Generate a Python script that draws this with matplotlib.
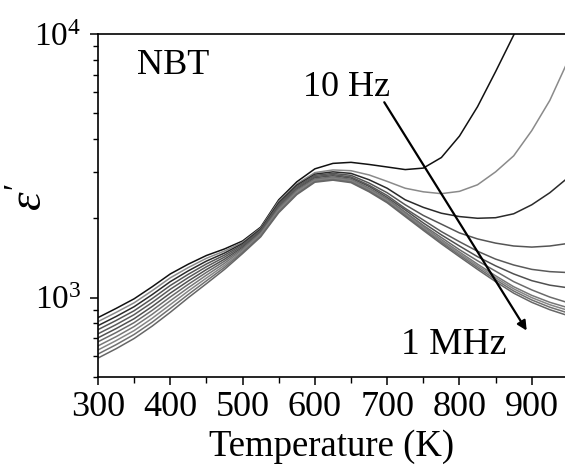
import matplotlib
matplotlib.use("Agg")
import matplotlib.pyplot as plt
from matplotlib.ticker import LogLocator, NullFormatter, FixedLocator

plt.rcParams['font.family'] = ['Liberation Serif', 'DejaVu Serif']
plt.rcParams['mathtext.fontset'] = 'custom'
plt.rcParams['mathtext.rm'] = 'Liberation Serif'
plt.rcParams['mathtext.it'] = 'Liberation Serif:italic'

temps = [300, 325, 350, 375, 400, 425, 450, 475, 500, 525, 550, 575, 600,
         625, 650, 675, 700, 725, 750, 775, 800, 825, 850, 875, 900, 925, 950]

# permittivity curves, 10 Hz (first) to 1 MHz (last)
eps_10Hz = [840, 910, 990, 1100, 1230, 1340, 1445, 1530, 1640, 1850, 2350, 2750, 3080,
            3230, 3260, 3200, 3130, 3060, 3100, 3400, 4100, 5300, 7200, 9900, 13500, 18000, 24000]
eps_32Hz = [811, 879, 956, 1063, 1189, 1301, 1410, 1503, 1622, 1835, 2320, 2700, 2980,
            3050, 3030, 2920, 2760, 2600, 2520, 2480, 2530, 2680, 3000, 3450, 4300, 5600, 7900]
eps_100Hz = [783, 848, 924, 1027, 1150, 1264, 1376, 1476, 1604, 1820, 2290, 2670, 2940,
             3000, 2960, 2800, 2600, 2350, 2200, 2090, 2030, 2000, 2010, 2080, 2250, 2500, 2850]
eps_316Hz = [756, 819, 892, 992, 1112, 1227, 1342, 1450, 1587, 1805, 2260, 2640, 2910,
             2960, 2910, 2720, 2500, 2250, 2050, 1900, 1760, 1670, 1610, 1570, 1555, 1570, 1605]
eps_1kHz = [729, 790, 862, 959, 1076, 1192, 1310, 1425, 1570, 1790, 2240, 2610, 2880,
            2930, 2870, 2670, 2440, 2180, 1970, 1780, 1630, 1500, 1400, 1330, 1280, 1255, 1245]
eps_3kHz = [704, 763, 832, 926, 1040, 1157, 1278, 1399, 1552, 1775, 2210, 2580, 2850,
            2900, 2840, 2640, 2400, 2150, 1920, 1730, 1570, 1430, 1320, 1230, 1160, 1115, 1090]
eps_10kHz = [680, 737, 804, 895, 1006, 1124, 1247, 1375, 1535, 1760, 2190, 2560, 2820,
             2870, 2810, 2600, 2370, 2110, 1880, 1690, 1520, 1380, 1260, 1150, 1070, 1005, 957]
eps_32kHz = [656, 711, 777, 865, 973, 1091, 1217, 1350, 1519, 1745, 2160, 2530, 2800,
             2850, 2790, 2580, 2350, 2090, 1860, 1660, 1490, 1340, 1210, 1100, 1020, 960, 916]
eps_100kHz = [633, 687, 750, 835, 941, 1060, 1187, 1326, 1502, 1730, 2140, 2510, 2780,
              2830, 2770, 2560, 2330, 2070, 1840, 1640, 1470, 1320, 1190, 1080, 1000, 940, 895]
eps_316kHz = [611, 663, 725, 807, 910, 1029, 1158, 1303, 1486, 1715, 2120, 2480, 2760,
              2810, 2750, 2540, 2310, 2050, 1820, 1620, 1450, 1300, 1170, 1060, 980, 920, 875]
eps_1MHz = [590, 640, 700, 780, 880, 1000, 1130, 1280, 1470, 1700, 2100, 2460, 2740,
            2790, 2730, 2520, 2290, 2030, 1800, 1600, 1430, 1280, 1150, 1040, 960, 900, 855]

curves = [eps_10Hz, eps_32Hz, eps_100Hz, eps_316Hz, eps_1kHz, eps_3kHz,
          eps_10kHz, eps_32kHz, eps_100kHz, eps_316kHz, eps_1MHz]
colors = ['#111111', '#8a8a8a', '#2a2a2a', '#555555', '#5a5a5a', '#505050',
          '#6a6a6a', '#777777', '#858585', '#707070', '#666666']

xticks = [300, 400, 500, 600, 700, 800, 900]

fig = plt.figure(figsize=(5.65, 4.66), dpi=100)
ax = fig.add_axes([98/565, 1-377/466, 1-98/565, (377-34)/466])

for c, col in zip(curves, colors):
    ax.plot(temps, c, color=col, lw=1.1)

ax.set_yscale('log')
ax.set_xlim(300, 946)
ax.set_ylim(500, 10000)
ax.set_xticks(xticks)
ax.xaxis.set_minor_locator(FixedLocator([350, 450, 550, 650, 750, 850]))
ax.yaxis.set_minor_locator(LogLocator(base=10, subs=range(2, 10)))
ax.yaxis.set_minor_formatter(NullFormatter())

ax.spines['right'].set_visible(False)
for s in ['left', 'bottom', 'top']:
    ax.spines[s].set_linewidth(1.2)
ax.tick_params(axis='x', which='major', direction='out', length=6, width=1.1,
               labelsize=26, pad=4)
ax.tick_params(axis='y', which='major', direction='out', length=6, width=1.1,
               labelsize=24, pad=6)
ax.tick_params(axis='both', which='minor', direction='out', length=3.5, width=1.0)
ax.tick_params(axis='x', which='minor', length=4)
ax.tick_params(top=False, right=False)

ax.set_xlabel('Temperature (K)', fontsize=26.5, labelpad=4)
fig.text(31/565, 1-197/466, r"$\mathit{\varepsilon'}$", fontsize=34,
         rotation=90, ha='center', va='center')

ax.text(354, 7620, 'NBT', fontsize=26, va='center', ha='left')
ax.text(583, 6240, '10 Hz', fontsize=26, va='center', ha='left')
ax.text(719, 662, '1 MHz', fontsize=27, va='center', ha='left')
ax.annotate('', xy=(893, 750), xytext=(696, 5510),
            arrowprops=dict(arrowstyle='-|>', color='black', lw=1.6,
                            mutation_scale=14, shrinkA=0, shrinkB=0))

fig.savefig('out.png', dpi=100)
